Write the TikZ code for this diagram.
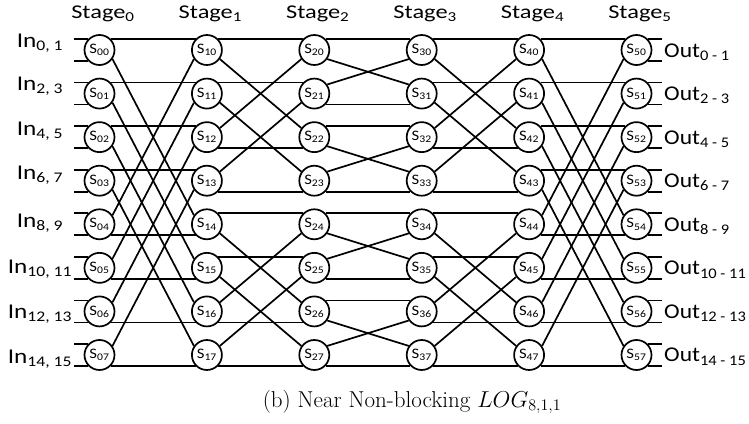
\documentclass[tikz,border=0pt]{standalone}
\usepackage{fix-cm}
\usepackage{fontspec}
\usepackage{graphicx}
\newfontfamily\calib{Carlito}
\newcommand{\wide}[2][1.3]{\scalebox{#1}[1]{#2}}
\tikzset{
  sw/.style={circle, draw, fill=white, line width=1.7pt, minimum size=30pt, inner sep=0pt, font=\calib\fontsize{14.5}{14.5}\selectfont},
  wire/.style={line width=1.7pt},
  lbl/.style={inner sep=0pt, font=\calib\fontsize{21}{21}\selectfont},
  stagel/.style={inner sep=0pt, font=\calib\fontsize{19.5}{19.5}\selectfont},
}
\begin{document}
\begin{tikzpicture}[x=1pt,y=-1pt]
\useasboundingbox (0,0) rectangle (749,423);
\coordinate (inx) at (74,0);
\coordinate (outx) at (662,0);
\foreach \i in {0,...,5}
  \foreach \j in {0,...,7}
    \node[sw] (S\i\j) at ({99.5+107.4*\i},{50+43.57*\j}) {\wide[1.15]{S\textsubscript{\i\j}}};
\foreach \i in {0,...,5}
  \node[stagel, anchor=base] (st\i) at ({103+107.4*\i},18.5) {\wide[1.25]{Stage\textsubscript{\i}}};
\foreach \t/\d in {0/4,1/2,2/1,3/2,4/4} {
  \pgfmathtruncatemacro\n{\t+1}
  \foreach \j in {0,...,7} {
    \pgfmathtruncatemacro\m{mod(\j,2*\d)}
    \ifnum\m<\d
      \pgfmathtruncatemacro\k{\j+\d}
      \draw[wire] (S\t\j.44) -- (S\n\j.136);
      \draw[wire] (S\t\j.-35) -- (S\n\k.145);
    \else
      \pgfmathtruncatemacro\k{\j-\d}
      \draw[wire] (S\t\j.-44) -- (S\n\j.224);
      \draw[wire] (S\t\j.35) -- (S\n\k.215);
    \fi
  }
}
\foreach \j in {0,...,7} {
  \draw[wire] (S0\j.136) -- (S0\j.136 -| inx);
  \draw[wire] (S0\j.224) -- (S0\j.224 -| inx);
  \draw[wire] (S5\j.44) -- (S5\j.44 -| outx);
  \draw[wire] (S5\j.-44) -- (S5\j.-44 -| outx);
}
\foreach \j/\a/\b/\yb in {0/0/1/47,1/2/3/90.7,2/4/5/135,3/6/7/179,4/8/9/227.3,5/10/11/273,6/12/13/318,7/14/15/363.3}
  \node[lbl, anchor=base] (in\j) at (40,\yb) {\wide[1.2]{In\textsubscript{\a, \b}}};
\foreach \j/\a/\b in {0/0/1,1/2/3,2/4/5,3/6/7,4/8/9,5/10/11,6/12/13,7/14/15}
  \node[lbl, anchor=base west] (out\j) at (664,{57+43.57*\j}) {\wide[1.12]{Out\textsubscript{\a{} - \b}}};
\node[anchor=base, font=\fontsize{23}{23}\selectfont] (cap) at (412,407) {(b) Near Non-blocking $LOG_{8,1,1}$};
\end{tikzpicture}
\end{document}
